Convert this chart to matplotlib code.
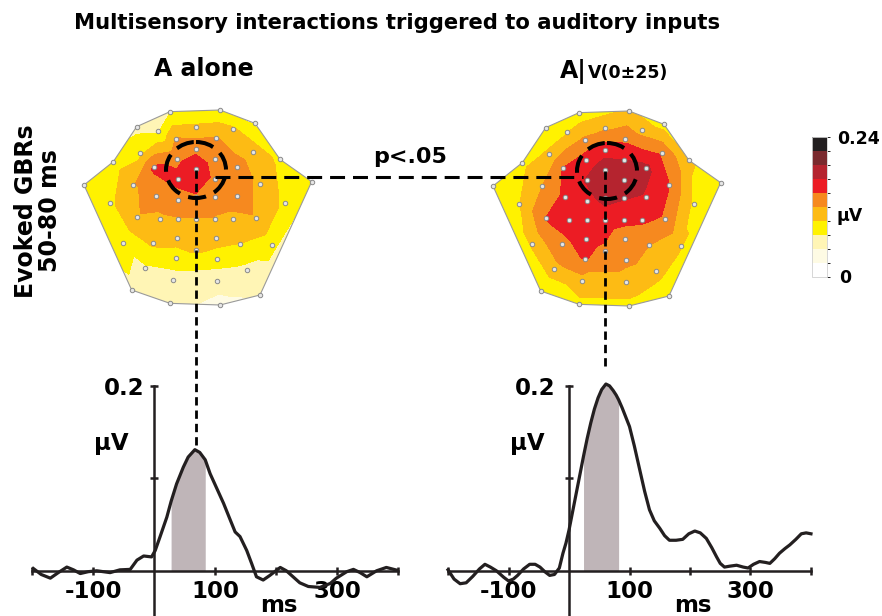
import numpy as np
import matplotlib
matplotlib.use("Agg")
import matplotlib.pyplot as plt
from matplotlib.tri import Triangulation
from matplotlib.patches import Polygon, Ellipse
from matplotlib.colors import ListedColormap, BoundaryNorm
from matplotlib.colorbar import ColorbarBase

plt.rcParams["font.family"] = ["DejaVu Sans"]
plt.rcParams["font.weight"] = "bold"

W, H = 882, 616

# --- topography: electrode layout (map units) and GBR amplitude per electrode (µV)
ELEC_X = [270, 420, 170, 525, 235, 347, 460, 288, 408, 347, 180, 518, 100, 290, 405, 600,
          222, 347, 470, 12, 160, 293, 405, 540, 695, 228, 293, 347, 405, 470, 90, 615,
          172, 240, 293, 347, 405, 460, 527, 128, 218, 290, 347, 408, 480, 575, 195, 287,
          410, 500, 278, 412, 155, 540, 270, 420]
ELEC_Y = [155, 150, 200, 190, 213, 200, 208, 237, 235, 268, 280, 275, 305, 297, 297, 298,
          322, 328, 322, 375, 375, 358, 358, 372, 365, 408, 420, 410, 410, 408, 430, 430,
          472, 478, 478, 478, 478, 478, 475, 548, 550, 533, 570, 535, 553, 555, 625, 595,
          598, 630, 660, 662, 690, 705, 730, 735]
HULL = [0, 1, 3, 15, 24, 53, 55, 54, 52, 19, 12, 2]

GBR_A = [0.070, 0.075, 0.065, 0.068, 0.070, 0.100, 0.100, 0.122, 0.122, 0.138,
         0.090, 0.110, 0.085, 0.138, 0.132, 0.090, 0.148, 0.162, 0.130, 0.080,
         0.117, 0.150, 0.138, 0.115, 0.080, 0.130, 0.135, 0.142, 0.130, 0.130,
         0.090, 0.090, 0.118, 0.115, 0.118, 0.118, 0.118, 0.115, 0.118, 0.076,
         0.100, 0.105, 0.100, 0.105, 0.095, 0.082, 0.068, 0.085, 0.085, 0.065,
         0.060, 0.055, 0.070, 0.050, 0.055, 0.042]
GBR_AV = [0.080, 0.100, 0.080, 0.085, 0.095, 0.115, 0.110, 0.125, 0.138, 0.160,
          0.100, 0.140, 0.090, 0.155, 0.168, 0.100, 0.145, 0.180, 0.175, 0.080,
          0.120, 0.170, 0.185, 0.145, 0.080, 0.150, 0.160, 0.175, 0.170, 0.165,
          0.095, 0.090, 0.145, 0.150, 0.155, 0.155, 0.150, 0.148, 0.140, 0.100,
          0.140, 0.150, 0.140, 0.130, 0.120, 0.100, 0.110, 0.145, 0.125, 0.110,
          0.110, 0.110, 0.070, 0.070, 0.090, 0.090]

LEVELS = np.linspace(0, 0.24, 11)
COLORS = ["#ffffff", "#fefbe4", "#fff5b5", "#fff200", "#fdbb14",
          "#f6891f", "#ec1c24", "#b5242f", "#7a2a2e", "#231f20"]

# --- evoked GBR time courses
TIME_A = [-198, -185, -170, -157, -143, -132, -121, -108, -94, -83, -72, -56, -39, -28,
          -17, -4, 2, 10, 21, 28, 37, 48, 56, 67, 75, 84, 92, 103, 114, 125, 133, 141,
          152, 160, 168, 179, 190, 207, 217, 228, 239, 253, 272, 289, 299, 316, 327, 338,
          349, 365, 381, 398]
GBR_T_A = [0.0025, -0.004, -0.008, -0.002, 0.004, 0.001, -0.003, -0.001, 0.0, -0.001,
           -0.002, 0.001, 0.0015, 0.0115, 0.016, 0.015, 0.022, 0.037, 0.058, 0.075,
           0.094, 0.112, 0.123, 0.131, 0.128, 0.120, 0.105, 0.089, 0.073, 0.055, 0.042,
           0.037, 0.022, 0.008, -0.0065, -0.010, -0.005, 0.0036, 0.0, -0.0065, -0.013,
           -0.017, -0.018, -0.0137, -0.008, -0.001, 0.0015, -0.002, -0.0065, 0.0, 0.0036,
           0.0007]
TIME_AV = [-200, -190, -180, -170, -159, -148, -139, -130, -120, -108, -100, -92, -85,
           -75, -65, -56, -48, -40, -32, -24, -16, -10, -5, 0, 6, 12, 18, 24, 30, 36, 42,
           48, 54, 61, 67, 73, 78, 82, 88, 94, 100, 108, 117, 125, 133, 141, 150, 158,
           166, 177, 188, 198, 208, 217, 227, 236, 244, 250, 257, 266, 277, 288, 296,
           305, 315, 325, 332, 340, 348, 357, 365, 375, 384, 392, 400]
GBR_T_AV = [0.001, -0.009, -0.014, -0.013, -0.006, 0.002, 0.007, 0.004, 0.0, -0.007,
            -0.011, -0.009, -0.005, 0.002, 0.007, 0.007, 0.004, -0.001, -0.005, -0.004,
            0.003, 0.019, 0.030, 0.044, 0.064, 0.084, 0.104, 0.124, 0.143, 0.160, 0.175,
            0.187, 0.196, 0.202, 0.200, 0.195, 0.190, 0.185, 0.176, 0.166, 0.156, 0.135,
            0.109, 0.086, 0.066, 0.054, 0.046, 0.038, 0.033, 0.033, 0.034, 0.040, 0.043,
            0.041, 0.035, 0.025, 0.015, 0.008, 0.004, 0.005, 0.006, 0.004, 0.003, 0.007,
            0.010, 0.009, 0.008, 0.013, 0.019, 0.024, 0.028, 0.034, 0.040, 0.041, 0.040]
WINDOW_A = (28, 84)
WINDOW_AV = (24, 82)


def px_rect(x0, y0, x1, y1):
    return [x0 / W, 1 - y1 / H, (x1 - x0) / W, (y1 - y0) / H]


def topomap(rect, vals):
    ax = fig.add_axes(px_rect(*rect))
    ex, ey = np.array(ELEC_X), np.array(ELEC_Y)
    tri = Triangulation(ex, ey)
    cs = ax.tricontourf(tri, vals, levels=LEVELS, colors=COLORS)
    hull = Polygon(np.c_[ex[HULL], ey[HULL]], closed=True, fill=False,
                   edgecolor="#9a9a9a", lw=0.8, zorder=3)
    ax.add_patch(hull)
    cs.set_clip_path(hull)
    ax.plot(ex, ey, "o", ms=3.2, mfc="#e6e6e6", mec="#8a8a8a", mew=0.7, zorder=4)
    ax.set_xlim(0, 720)
    ax.set_ylim(780, 0)
    ax.axis("off")
    return ax


def trace(rect, t, v, window, ypad):
    ax = fig.add_axes(px_rect(*rect))
    t, v = np.array(t), np.array(v)
    m = (t >= window[0]) & (t <= window[1])
    ax.fill_between(t, 0, v, where=m, color="#bfb5b8", lw=0, zorder=1)
    ax.plot(t, v, color="#231f20", lw=2.3, zorder=3)
    ax.set_xlim(-205, 405)
    ax.set_ylim(-0.05, 0.215)
    ax.patch.set_alpha(0)
    for s in ["top", "right"]:
        ax.spines[s].set_visible(False)
    ax.spines["left"].set_position(("data", 0))
    ax.spines["bottom"].set_position(("data", 0))
    ax.spines["bottom"].set_bounds(-200, 400)
    ax.spines["left"].set_bounds(-0.05, 0.2)
    for s in ["left", "bottom"]:
        ax.spines[s].set_linewidth(1.8)
        ax.spines[s].set_color("#231f20")
        ax.spines[s].set_zorder(2)
    ax.set_xticks([-200, -100, 100, 200, 300, 400])
    ax.set_xticklabels(["", "-100", "100", "", "300", ""])
    ax.set_yticks([0.1, 0.2])
    ax.set_yticklabels(["", "0.2"])
    ax.tick_params(direction="inout", length=6, width=1.8, color="#231f20",
                   labelsize=16.5, pad=4)
    ax.tick_params(axis="y", pad=ypad)
    for lab in ax.get_xticklabels() + ax.get_yticklabels():
        lab.set_fontweight("bold")
    ax.text(-41, 0.138, "µV", ha="right", va="center", fontsize=16.5)
    ax.text(205, -0.038, "ms", ha="center", va="center", fontsize=16.5)
    return ax


fig = plt.figure(figsize=(W / 100, H / 100), dpi=100)

topomap((80, 60, 320, 320), GBR_A)
topomap((489, 61, 729, 321), GBR_AV)

trace((29, 372, 401, 617), TIME_A, GBR_T_A, WINDOW_A, 4)
trace((445, 372, 814, 617), TIME_AV, GBR_T_AV, WINDOW_AV, 7)

cax = fig.add_axes(px_rect(812, 137, 827, 277))
cb = ColorbarBase(cax, cmap=ListedColormap(COLORS), norm=BoundaryNorm(LEVELS, len(COLORS)),
                  orientation="vertical", ticks=[])
cb.outline.set_edgecolor("#d0d0d0")
cb.outline.set_linewidth(0.6)

# overlay in pixel coordinates for annotations
ov = fig.add_axes([0, 0, 1, 1], zorder=10)
ov.set_xlim(0, W)
ov.set_ylim(H, 0)
ov.axis("off")
ov.patch.set_alpha(0)

ov.text(397, 23, "Multisensory interactions triggered to auditory inputs",
        ha="center", va="center", fontsize=15.2)
ov.text(204, 69, "A alone", ha="center", va="center", fontsize=17)
a_txt = ov.text(560, 78, "A|", ha="left", va="baseline", fontsize=17)
fig.canvas.draw()
bb = a_txt.get_window_extent().transformed(ov.transData.inverted())
ov.text(bb.x1 + 1, 78, "V(0±25)", ha="left", va="baseline", fontsize=12.5)
ov.text(38, 211, "Evoked GBRs\n50-80 ms", rotation=90, ha="center", va="center",
        fontsize=17, linespacing=1.05, multialignment="center")
ov.text(410, 157, "p<.05", ha="center", va="center", fontsize=16)

ov.text(837, 139, "0.24", ha="left", va="center", fontsize=12.5)
ov.text(837, 216, "µV", ha="left", va="center", fontsize=12.5)
ov.text(839, 278, "0", ha="left", va="center", fontsize=12.5)

for cx, cy in [(196, 170), (607, 171)]:
    ov.add_patch(Ellipse((cx, cy), 60, 56, fill=False, edgecolor="black", lw=2.9,
                         linestyle=(0, (4.5, 2.2))))
ov.plot([215, 583], [177, 177], color="black", lw=2.2, linestyle=(0, (4.9, 2.6)))
ov.plot([196, 196], [170, 447], color="black", lw=2.0, linestyle=(0, (3, 1.8)))
ov.plot([605, 605], [171, 370], color="black", lw=2.0, linestyle=(0, (3, 1.8)))

fig.savefig("out.png", dpi=100)
